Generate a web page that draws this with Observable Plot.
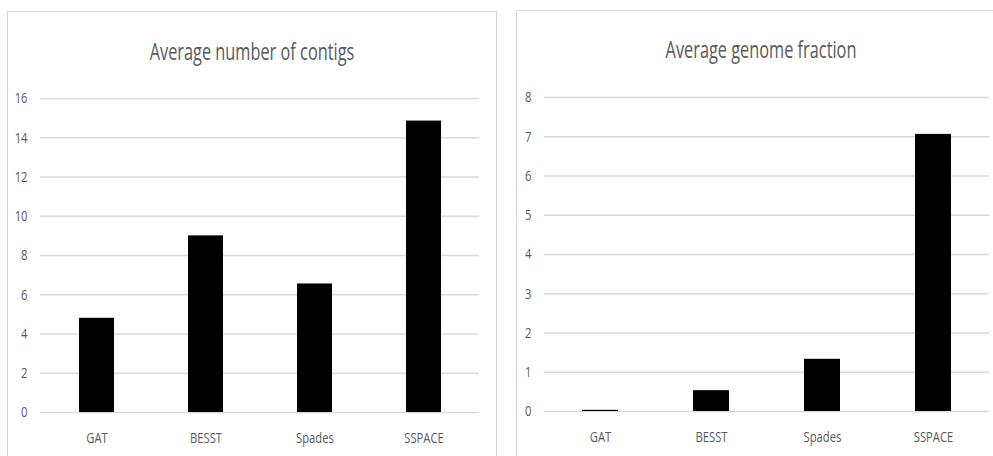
<!DOCTYPE html>
<html><head><meta charset="utf-8">
<script src="https://cdn.jsdelivr.net/npm/d3@7"></script>
<script src="https://cdn.jsdelivr.net/npm/@observablehq/plot@0.6"></script>
<style>
body{margin:0;background:#fff;width:993px;height:456px;overflow:hidden;position:relative;font-family:"Open Sans",sans-serif;}
.panel{position:absolute;border:1.5px solid #d9d9d9;box-sizing:border-box;}
.title{position:absolute;font-size:24px;font-weight:400;color:#595959;line-height:24px;white-space:nowrap;transform:translateX(-50%) scaleX(0.68);}
.chart{position:absolute;top:0;}
</style></head><body>
<div class="panel" style="left:7px;top:11px;width:490px;height:470px"></div>
<div class="panel" style="left:516px;top:10px;width:490px;height:470px"></div>
<div class="title" style="left:251.5px;top:39px">Average number of contigs</div>
<div class="title" style="left:761px;top:37px">Average genome fraction</div>
<div id="c1" class="chart" style="left:0"></div>
<div id="c2" class="chart" style="left:497px"></div>
<script>
const tools = ["GAT", "BESST", "Spades", "SSPACE"];
const contigs = [4.8, 9.0, 6.55, 14.85];
const fraction = [0.03, 0.53, 1.33, 7.06];
const contigTicks = [0, 2, 4, 6, 8, 10, 12, 14, 16];
const fractionTicks = [0, 1, 2, 3, 4, 5, 6, 7, 8];

function squeeze(svg, k) {
  svg.querySelectorAll("text").forEach(t => {
    const w = t.getComputedTextLength();
    if (w > 0) {
      t.setAttribute("textLength", (w * k).toFixed(2));
      t.setAttribute("lengthAdjust", "spacingAndGlyphs");
    }
  });
}

function makeChart(el, values, ticks, opts) {
  const data = tools.map((tool, i) => ({tool, value: values[i]}));
  const svg = Plot.plot({
    width: opts.width, height: 456,
    marginLeft: opts.ml, marginRight: opts.mr, marginTop: opts.mt, marginBottom: opts.mb,
    style: {fontFamily: "'Open Sans', sans-serif", fontSize: "15px", color: "#595959", background: "transparent", overflow: "visible"},
    x: {domain: tools, paddingInner: 0.68, paddingOuter: 0.34, label: null, tickSize: 0, tickPadding: 20},
    y: {domain: [ticks[0], ticks[ticks.length - 1]], ticks: ticks, label: null, tickSize: 0, tickPadding: 13},
    marks: [
      Plot.gridY(ticks, {stroke: "#d9d9d9", strokeOpacity: 1, strokeWidth: 1.5}),
      Plot.barY(data, {x: "tool", y: "value", fill: "#000"})
    ]
  });
  document.getElementById(el).appendChild(svg);
  squeeze(svg, 0.75);
}

makeChart("c1", contigs, contigTicks, {width: 497, ml: 40, mr: 18, mt: 98, mb: 44});
makeChart("c2", fraction, fractionTicks, {width: 496, ml: 47, mr: 4, mt: 97, mb: 45});
</script>
</body></html>
